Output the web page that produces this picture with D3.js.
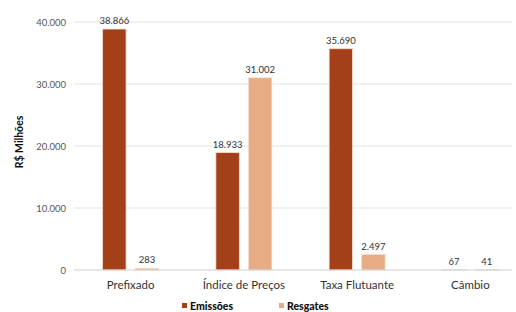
<!DOCTYPE html>
<html>
<head>
<meta charset="utf-8">
<script src="https://cdn.jsdelivr.net/npm/d3@7"></script>
<style>
  body { margin: 0; background: #fff; }
  text { font-family: "Lato", "DejaVu Sans", sans-serif; }
</style>
</head>
<body>
<div id="chart"></div>
<script>
// data
let categories = ["Prefixado", "Índice de Preços", "Taxa Flutuante", "Câmbio"];
let seriesNames = ["Emissões", "Resgates"];
let emissoes = [38866, 18933, 35690, 67];
let resgates = [283, 31002, 2497, 41];
let yTicks = [0, 10000, 20000, 30000, 40000];

let colors = ["#A3401A", "#E6AD84"];

let width = 516, height = 312;
let svg = d3.select("#chart").append("svg")
  .attr("width", width).attr("height", height);

let fmt = d3.formatLocale({decimal: ",", thousands: ".", grouping: [3], currency: ["R$", ""]}).format(",d");

let xScale = d3.scaleBand().domain(categories).range([74, 527]).paddingInner(0).paddingOuter(0);
let xInner = d3.scaleBand().domain(seriesNames).range([0, 56]).paddingInner(0.28);
let yScale = d3.scaleLinear().domain([0, 40000]).range([270, 22]);

// gridlines
svg.append("g").selectAll("line")
  .data(yTicks.slice(1)).enter()
  .append("line")
  .attr("x1", 74).attr("x2", 512)
  .attr("y1", d => yScale(d)).attr("y2", d => yScale(d))
  .attr("stroke", "#e3e3e3").attr("stroke-width", 1.2);

// y axis labels
svg.append("g").selectAll("text")
  .data(yTicks).enter()
  .append("text")
  .attr("x", 66).attr("y", d => yScale(d) + 3.5)
  .attr("text-anchor", "end")
  .attr("font-size", 9.5).attr("fill", "#555")
  .text(d => fmt(d));

// y title
svg.append("text")
  .attr("transform", "translate(23,142)rotate(-90)")
  .attr("text-anchor", "middle")
  .attr("font-size", 10.5).attr("font-weight", "bold").attr("fill", "#111")
  .text("R$ Milhões");

let series = [emissoes, resgates];
let groups = svg.append("g").selectAll("g")
  .data(categories).enter()
  .append("g")
  .attr("transform", d => "translate(" + (xScale(d) + xScale.bandwidth() / 2 - 28) + ",0)");

groups.selectAll("rect")
  .data((c, i) => seriesNames.map((s, j) => ({s: s, v: series[j][i], j: j}))).enter()
  .append("rect")
  .attr("x", d => xInner(d.s))
  .attr("width", xInner.bandwidth())
  .attr("y", d => yScale(d.v))
  .attr("height", d => yScale(0) - yScale(d.v))
  .attr("fill", d => colors[d.j])
  .attr("stroke", "#f6ddd0").attr("stroke-width", 0.8);

groups.selectAll("text")
  .data((c, i) => seriesNames.map((s, j) => ({s: s, v: series[j][i], j: j}))).enter()
  .append("text")
  .attr("x", d => xInner(d.s) + xInner.bandwidth() / 2)
  .attr("y", d => yScale(d.v) - 5)
  .attr("text-anchor", "middle")
  .attr("font-size", 9.5).attr("fill", "#333")
  .text(d => fmt(d.v));

// baseline
svg.append("line")
  .attr("x1", 74).attr("x2", 512)
  .attr("y1", yScale(0)).attr("y2", yScale(0))
  .attr("stroke", "#d0d0d0").attr("stroke-width", 1.2);

// category labels
svg.append("g").selectAll("text")
  .data(categories).enter()
  .append("text")
  .attr("x", d => xScale(d) + xScale.bandwidth() / 2)
  .attr("y", 289)
  .attr("text-anchor", "middle")
  .attr("font-size", 11.5).attr("fill", "#333")
  .text(d => d);

// legend
let legendX = [182, 279];
let legend = svg.append("g").selectAll("g")
  .data(seriesNames).enter()
  .append("g")
  .attr("transform", (d, i) => "translate(" + legendX[i] + ",303)");
legend.append("rect")
  .attr("width", 5).attr("height", 5)
  .attr("fill", (d, i) => colors[i]);
legend.append("text")
  .attr("x", 8).attr("y", 7)
  .attr("font-size", 10.5).attr("font-weight", "900").attr("fill", "#111")
  .text(d => d);
</script>
</body>
</html>
